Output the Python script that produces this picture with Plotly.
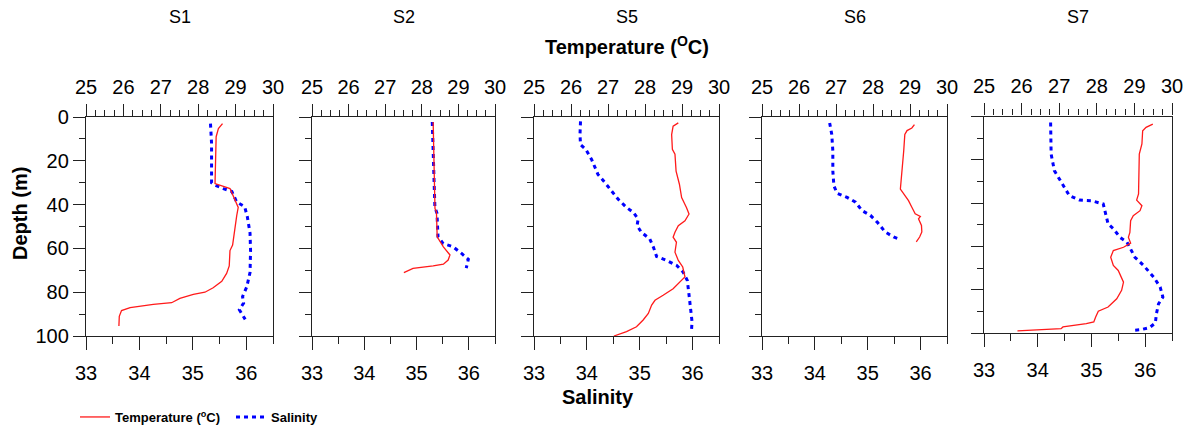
import plotly.graph_objects as go

W, H = 1189, 427
FONT = "Arial, Liberation Sans, sans-serif"

stations = ["S1", "S2", "S5", "S6", "S7"]
temp_ticks = [25, 26, 27, 28, 29, 30]
sal_ticks = [33, 34, 35, 36]
depth_ticks = [0, 20, 40, 60, 80, 100]

# ---- S1 ----
s1_temp_depth = [3, 5.3, 9, 20, 30.4, 32.7, 36.5, 39.5, 41.3, 45, 53, 58.5, 61, 68, 71.4, 75, 78, 80, 81, 82.8, 84.8, 85.6, 87, 88.4, 91, 95.4]
s1_temp = [28.65, 28.54, 28.48, 28.47, 28.45, 28.85, 28.94, 29.03, 29.07, 29.03, 28.96, 28.92, 28.85, 28.83, 28.76, 28.63, 28.40, 28.18, 27.87, 27.51, 27.29, 26.80, 26.18, 25.95, 25.89, 25.88]
s1_sal_depth = [3, 12, 30, 31, 32.7, 34, 38.8, 41, 45.6, 53, 61, 71, 77.5, 82, 85, 88, 92.4]
s1_sal = [35.33, 35.35, 35.35, 35.40, 35.57, 35.73, 35.82, 35.97, 36.02, 36.07, 36.08, 36.07, 36.01, 35.93, 35.95, 35.87, 35.98]

# ---- S2 ----
s2_temp_depth = [2.3, 15, 30, 41.8, 43.3, 54.7, 59.3, 63, 65.3, 67.2, 68, 69.1, 71.1]
s2_temp = [28.31, 28.33, 28.34, 28.36, 28.40, 28.42, 28.59, 28.77, 28.72, 28.59, 28.31, 27.76, 27.51]
s2_sal_depth = [2.3, 15, 30, 41, 44, 54.7, 57.8, 59.3, 62.3, 65, 69]
s2_sal = [35.30, 35.32, 35.33, 35.35, 35.39, 35.41, 35.51, 35.70, 35.86, 35.99, 35.95]

# ---- S5 ----
s5_temp_depth = [2.7, 4.2, 8, 14.8, 17, 24.7, 30.7, 36.8, 41.3, 44.3, 47.4, 49.6, 52.6, 54.9, 57.2, 61.7, 65.5, 68.5, 73, 75.3, 78.4, 81.4, 83.7, 85.9, 89.7, 92.7, 95.8, 98, 100]
s5_temp = [28.90, 28.76, 28.72, 28.74, 28.81, 28.84, 28.93, 28.99, 29.12, 29.19, 29.08, 28.90, 28.81, 28.76, 28.85, 28.81, 28.90, 29.02, 29.08, 28.94, 28.76, 28.49, 28.27, 28.18, 28.09, 27.95, 27.77, 27.50, 27.16]
s5_sal_depth = [2, 8, 12.6, 14.8, 19.4, 26.2, 29.9, 33.7, 37.5, 41.3, 43.6, 46.6, 49.6, 52.6, 55.7, 59.5, 63.7, 65.5, 67.8, 70.8, 74.6, 80.6, 88.2, 93.5, 97.3]
s5_sal = [33.88, 33.87, 33.88, 33.98, 34.09, 34.21, 34.34, 34.47, 34.59, 34.75, 34.88, 34.97, 34.95, 35.03, 35.19, 35.26, 35.32, 35.51, 35.70, 35.82, 35.90, 35.93, 35.96, 35.99, 35.98]

# ---- S6 ----
s6_temp_depth = [3.5, 5, 6.2, 8, 15.5, 23, 29, 32.9, 35.1, 38.2, 41.2, 44.2, 45.4, 46.5, 49.5, 52.5, 54.8, 57]
s6_temp = [29.12, 29.05, 28.92, 28.86, 28.83, 28.78, 28.76, 28.74, 28.83, 28.96, 29.05, 29.14, 29.28, 29.23, 29.31, 29.32, 29.26, 29.17]
s6_sal_depth = [2.7, 8, 15.5, 24.6, 31.4, 34.8, 36.7, 38.9, 42.7, 44.9, 48, 52.5, 54.8, 56]
s6_sal = [34.28, 34.32, 34.34, 34.34, 34.36, 34.42, 34.61, 34.77, 34.89, 35.05, 35.18, 35.33, 35.49, 35.63]

# ---- S7 ----
s7_temp_depth = [3.5, 5, 6.6, 12.7, 17.4, 26.6, 35.8, 38.6, 41.2, 43.5, 45.8, 48.1, 53.5, 55.8, 58.5, 60.4, 61.9, 65, 68.8, 71.1, 74.2, 76.5, 80.3, 84.2, 88, 89.9, 92.6, 94.9, 95.7, 97.2, 98, 99]
s7_temp = [29.49, 29.31, 29.22, 29.20, 29.13, 29.12, 29.11, 29.06, 29.20, 29.15, 28.97, 28.90, 28.88, 28.84, 28.90, 28.71, 28.44, 28.37, 28.44, 28.57, 28.66, 28.71, 28.66, 28.53, 28.30, 28.04, 27.97, 27.92, 27.72, 27.10, 27.05, 25.89]
s7_sal_depth = [2.8, 9.7, 17.4, 25, 30.4, 36.6, 38.6, 38.9, 40.4, 45, 49.6, 51.9, 55.8, 58, 61.1, 65, 68.8, 74.2, 78.8, 83.4, 86.5, 91.1, 95.4, 97.5, 98.5, 98.8]
s7_sal = [34.24, 34.24, 34.25, 34.31, 34.44, 34.59, 34.78, 35.00, 35.22, 35.26, 35.31, 35.41, 35.53, 35.66, 35.72, 35.81, 35.97, 36.16, 36.28, 36.33, 36.25, 36.21, 36.19, 36.08, 35.91, 35.77]

profiles = [
    (s1_temp_depth, s1_temp, s1_sal_depth, s1_sal),
    (s2_temp_depth, s2_temp, s2_sal_depth, s2_sal),
    (s5_temp_depth, s5_temp, s5_sal_depth, s5_sal),
    (s6_temp_depth, s6_temp, s6_sal_depth, s6_sal),
    (s7_temp_depth, s7_temp, s7_sal_depth, s7_sal),
]

# panel pixel boxes (left, right, top, bottom)
boxes = [(86, 273, 117, 336), (312, 495, 117, 336), (534, 719, 117, 336),
         (762, 947, 117, 336), (984, 1172, 116.5, 333)]

RED = "#FF1A1A"
BLUE = "#0000FF"
AX = "#222222"

fig = go.Figure()
layout = dict(
    width=W, height=H, margin=dict(l=0, r=0, t=0, b=0, pad=0, autoexpand=False),
    paper_bgcolor="white", plot_bgcolor="white",
    font=dict(family=FONT, color="black", size=20),
    showlegend=True,
    legend=dict(orientation="h", x=75 / W, y=1 - 402 / H, xanchor="left", yanchor="top",
                font=dict(family=FONT, size=13, color="black", weight="bold"),
                bgcolor="rgba(0,0,0,0)", itemwidth=30, tracegroupgap=0,
                entrywidth=111, entrywidthmode="pixels"),
)

annotations = []
for i, (st, (td, tv, sd, sv), (l, r, t, b)) in enumerate(zip(stations, profiles, boxes)):
    xs = f"x{2*i+1}"
    xt = f"x{2*i+2}"
    ya = f"y{i+1}"
    xdom = [l / W, r / W]
    ydom = [1 - b / H, 1 - t / H]
    fig.add_trace(go.Scatter(x=tv, y=td, xaxis=xt, yaxis=ya, mode="lines",
                             line=dict(color=RED, width=1.3),
                             name="Temperature (<sup>o</sup>C)", showlegend=(i == 0),
                             legendrank=1))
    fig.add_trace(go.Scatter(x=sv, y=sd, xaxis=xs, yaxis=ya, mode="lines",
                             line=dict(color=BLUE, width=3, dash="4px,4px"),
                             name="Salinity", showlegend=(i == 0), legendrank=2))
    layout[f"xaxis{2*i+1}"] = dict(
        domain=xdom, anchor=ya, side="bottom", range=[33, 36.5], automargin=False,
        tickmode="array", tickvals=sal_ticks, ticktext=[str(v) for v in sal_ticks],
        ticks="outside", ticklen=13, tickwidth=1.3, tickcolor=AX,
        minor=dict(dtick=0.5, tick0=33, ticks="outside", ticklen=7, tickwidth=1.3, tickcolor=AX),
        showline=True, linecolor=AX, linewidth=1.3, showgrid=False, zeroline=False,
        tickfont=dict(size=20, family=FONT), ticklabelstandoff=6, fixedrange=True)
    layout[f"xaxis{2*i+2}"] = dict(
        domain=xdom, anchor=ya, overlaying=xs, side="top", range=[25, 30], automargin=False,
        tickmode="array", tickvals=temp_ticks, ticktext=[str(v) for v in temp_ticks],
        ticks="outside", ticklen=12, tickwidth=1.3, tickcolor=AX,
        minor=dict(dtick=0.25, tick0=25, ticks="outside", ticklen=6, tickwidth=1.3, tickcolor=AX),
        showline=True, linecolor=AX, linewidth=1.3, showgrid=False, zeroline=False,
        tickfont=dict(size=20, family=FONT), ticklabelstandoff=2, fixedrange=True)
    yax = dict(
        domain=ydom, anchor=xs, range=[100, 0], automargin=False,
        tickmode="array", tickvals=depth_ticks,
        ticks="outside", ticklen=12, tickwidth=1.3, tickcolor=AX,
        minor=dict(dtick=10, tick0=0, ticks="outside", ticklen=6, tickwidth=1.3, tickcolor=AX),
        showline=True, mirror=True, linecolor=AX, linewidth=1.3, showgrid=False, zeroline=False,
        tickfont=dict(size=20, family=FONT), fixedrange=True)
    if i == 0:
        yax["ticktext"] = [str(v) for v in depth_ticks]
        yax["showticklabels"] = True
    else:
        yax["showticklabels"] = False
    layout[f"yaxis{i+1}"] = yax
    annotations.append(dict(text=st, x=(l + r) / 2 / W, y=1 - 17 / H, xref="paper", yref="paper",
                            showarrow=False, font=dict(size=18, family=FONT, color="black"),
                            xanchor="center", yanchor="middle"))

annotations.append(dict(text="<b>Temperature (<sup>O</sup>C)</b>", x=627 / W, y=1 - 45 / H,
                        xref="paper", yref="paper", showarrow=False,
                        font=dict(size=20, family=FONT, color="black"),
                        xanchor="center", yanchor="middle"))
annotations.append(dict(text="<b>Salinity</b>", x=598 / W, y=1 - 397 / H,
                        xref="paper", yref="paper", showarrow=False,
                        font=dict(size=20, family=FONT, color="black"),
                        xanchor="center", yanchor="middle"))
annotations.append(dict(text="<b>Depth (m)</b>", x=20 / W, y=1 - 214 / H,
                        xref="paper", yref="paper", showarrow=False, textangle=-90,
                        font=dict(size=20, family=FONT, color="black"),
                        xanchor="center", yanchor="middle"))
layout["annotations"] = annotations
fig.update_layout(**layout)
fig.write_html("out.html", config={"displayModeBar": False},
               post_script="document.body.style.margin='0px';document.body.style.overflow='hidden';")
